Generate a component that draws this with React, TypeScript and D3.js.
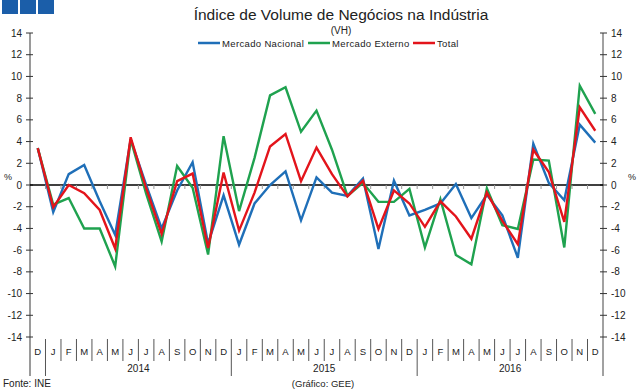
import React, { useEffect, useRef } from 'react';
import * as d3 from 'd3';

// month labels, Dec 2013 .. Dec 2016
const months = ['D', 'J', 'F', 'M', 'A', 'M', 'J', 'J', 'A', 'S', 'O', 'N', 'D', 'J', 'F', 'M', 'A', 'M', 'J', 'J', 'A', 'S', 'O', 'N', 'D', 'J', 'F', 'M', 'A', 'M', 'J', 'J', 'A', 'S', 'O', 'N', 'D'];
const years = ['2014', '2015', '2016'];
const yTicks = [14, 12, 10, 8, 6, 4, 2, 0, -2, -4, -6, -8, -10, -12, -14];

const nacional = [3.4, -2.5, 1.0, 1.85, -1.5, -4.6, 4.2, 0.0, -4.0, -0.5, 2.1, -5.4, -0.95, -5.5, -1.7, 0.0, 1.25, -3.25, 0.7, -0.7, -1.0, 0.6, -5.9, 0.4, -2.8, -2.3, -1.7, 0.1, -3.05, -0.9, -2.8, -6.7, 3.8, 0.2, -1.4, 5.55, 3.9];
const externo = [3.4, -1.8, -1.2, -4.0, -4.0, -7.5, 4.2, -0.8, -5.2, 1.75, -0.25, -6.4, 4.5, -2.4, 2.5, 8.25, 9.0, 4.9, 6.85, 3.25, -1.0, 0.2, -1.55, -1.55, -0.35, -5.75, -1.3, -6.45, -7.3, -0.3, -3.7, -4.05, 2.35, 2.25, -5.75, 9.15, 6.55];
const total = [3.4, -2.05, 0.0, -0.75, -2.3, -5.85, 4.4, -0.3, -4.5, 0.35, 1.05, -5.8, 1.15, -4.2, -0.7, 3.55, 4.7, 0.35, 3.45, 1.0, -1.05, 0.4, -4.05, -0.5, -1.7, -3.85, -1.5, -2.9, -4.95, -0.7, -3.3, -5.45, 3.25, 1.2, -3.4, 7.15, 5.0];

const seriesNames = ['Mercado Nacional', 'Mercado Externo', 'Total'];
const seriesColors = ['#1f6fb8', '#1fa24f', '#e3141b'];

const W = 642;
const H = 391;
const FONT = 'Liberation Sans, Arial, sans-serif';

const App = () => {
  const svgRef = useRef<SVGSVGElement>(null);

  useEffect(() => {
    const svg = d3.select(svgRef.current);
    svg.selectAll('*').remove();

    const left = 30;
    const right = 603;
    const top = 33;
    const bottom = 337;

    const x = d3.scaleBand<number>().domain(d3.range(months.length)).range([left, right]);
    const y = d3.scaleLinear().domain([-14, 14]).range([bottom, top]);
    const cx = (i: number) => (x(i) as number) + x.bandwidth() / 2;

    // header boxes
    [0, 1, 2].forEach((k) => {
      svg.append('rect').attr('x', 2 + k * 18).attr('y', 0).attr('width', 16).attr('height', 14).attr('fill', '#1b5ea9');
    });

    // title
    svg.append('text').attr('x', 341).attr('y', 20).attr('text-anchor', 'middle')
      .attr('font-family', FONT).attr('font-size', 15.5).attr('fill', '#222')
      .text('Índice de Volume de Negócios na Indústria');
    svg.append('text').attr('x', 341).attr('y', 34).attr('text-anchor', 'middle')
      .attr('font-family', FONT).attr('font-size', 10).attr('fill', '#222')
      .text('(VH)');

    // legend
    const legendX = [198, 308, 413];
    seriesNames.forEach((name, k) => {
      svg.append('line').attr('x1', legendX[k]).attr('x2', legendX[k] + 22).attr('y1', 43).attr('y2', 43)
        .attr('stroke', seriesColors[k]).attr('stroke-width', 2.5);
      svg.append('text').attr('x', legendX[k] + 24).attr('y', 46.5)
        .attr('font-family', FONT).attr('font-size', 9.5).attr('letter-spacing', 0.35)
        .attr('fill', '#222').text(name);
    });

    // left axis
    svg.append('line').attr('x1', left).attr('x2', left).attr('y1', top).attr('y2', 376)
      .attr('stroke', '#9a9a9a').attr('stroke-width', 2);
    // right axis
    svg.append('line').attr('x1', right).attr('x2', right).attr('y1', top).attr('y2', 376)
      .attr('stroke', '#444').attr('stroke-width', 1);

    yTicks.forEach((t) => {
      svg.append('line').attr('x1', left - 4).attr('x2', left + 3).attr('y1', y(t)).attr('y2', y(t))
        .attr('stroke', '#333').attr('stroke-width', 1);
      svg.append('line').attr('x1', right - 3).attr('x2', right + 4).attr('y1', y(t)).attr('y2', y(t))
        .attr('stroke', '#333').attr('stroke-width', 1);
      svg.append('text').attr('x', 22).attr('y', y(t) + 3.5).attr('text-anchor', 'end')
        .attr('font-family', FONT).attr('font-size', 10).attr('fill', '#222').text(t);
      svg.append('text').attr('x', 611).attr('y', y(t) + 3.5).attr('text-anchor', 'start')
        .attr('font-family', FONT).attr('font-size', 10).attr('fill', '#222').text(t);
    });

    svg.append('text').attr('x', 4).attr('y', 180).attr('font-family', FONT).attr('font-size', 9).attr('fill', '#222').text('%');
    svg.append('text').attr('x', 628).attr('y', 180).attr('font-family', FONT).attr('font-size', 9).attr('fill', '#222').text('%');

    // zero line with small ticks
    svg.append('line').attr('x1', left).attr('x2', right).attr('y1', y(0)).attr('y2', y(0))
      .attr('stroke', '#000').attr('stroke-width', 1.3);
    d3.range(1, months.length).forEach((i) => {
      const bx = x(i) as number;
      svg.append('line').attr('x1', bx).attr('x2', bx).attr('y1', y(0)).attr('y2', y(0) + 4)
        .attr('stroke', '#999').attr('stroke-width', 1);
    });

    // category labels and separators
    months.forEach((m, i) => {
      svg.append('text').attr('x', cx(i)).attr('y', 355).attr('text-anchor', 'middle')
        .attr('font-family', FONT).attr('font-size', 9.5).attr('fill', '#222').text(m);
      if (i > 0) {
        const bx = x(i) as number;
        const isYear = (i - 1) % 12 === 0;
        svg.append('line').attr('x1', bx).attr('x2', bx).attr('y1', 339).attr('y2', isYear ? 376 : 361)
          .attr('stroke', '#555').attr('stroke-width', 1);
      }
    });
    years.forEach((yr, k) => {
      const a = x(1 + k * 12) as number;
      const b = (x(12 + k * 12) as number) + x.bandwidth();
      svg.append('text').attr('x', (a + b) / 2).attr('y', 372).attr('text-anchor', 'middle')
        .attr('font-family', FONT).attr('font-size', 10).attr('fill', '#222').text(yr);
    });

    // series
    const line = d3.line<number>().x((_, i) => cx(i)).y((d) => y(d));
    [nacional, externo, total].forEach((s, k) => {
      svg.append('path').attr('d', line(s) as string).attr('fill', 'none')
        .attr('stroke', seriesColors[k]).attr('stroke-width', 2.4).attr('stroke-linejoin', 'miter');
    });

    // footer
    svg.append('text').attr('x', 3).attr('y', 387).attr('font-family', FONT).attr('font-size', 10).attr('fill', '#222').text('Fonte: INE');
    svg.append('text').attr('x', 323).attr('y', 387).attr('text-anchor', 'middle')
      .attr('font-family', FONT).attr('font-size', 9.5).attr('fill', '#222').text('(Gráfico: GEE)');
  }, []);

  return (
    <svg ref={svgRef} width={W} height={H} style={{ position: 'absolute', left: 0, top: 0, background: '#fff' }} />
  );
};

export default App;
